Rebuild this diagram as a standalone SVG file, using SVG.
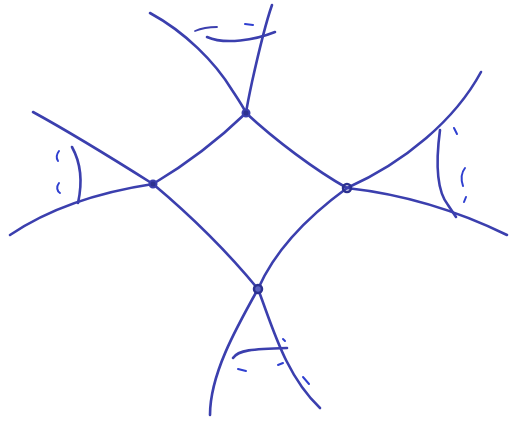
<svg xmlns="http://www.w3.org/2000/svg" width="510" height="422" viewBox="0 0 510 422">
<style>
.ink{fill:none;stroke:#3b3fae;stroke-width:2.6;stroke-linecap:round;stroke-linejoin:round}
.thin{fill:none;stroke:#3b3fae;stroke-width:1.8;stroke-linecap:round}
.mark{fill:none;stroke:#2f3fd0;stroke-width:2;stroke-linecap:round}
.dot{fill:#2c3190;stroke:#3b3fae;stroke-width:2}
</style>
<rect width="510" height="422" fill="#ffffff"/>
<g id="connectors">
<path class="ink" d="M150,13 C185,32 215,62 232,90 C240,102 244,108 246,113 C275,140 315,170 347,188"/>
<path class="ink" d="M272,5 C265,25 258,55 252,82 C249,96 247,106 246,113 C218,140 185,165 153,184"/>
<path class="ink" d="M33,112 C75,135 115,160 153,184 C190,215 230,255 258,289"/>
<path class="ink" d="M10,235 C50,208 100,192 153,184"/>
<path class="ink" d="M481,72 C455,120 405,162 347,188 C310,215 275,250 258,289"/>
<path class="ink" d="M507,235 C460,212 410,195 347,188"/>
<path class="ink" d="M210,415 C210,375 235,330 258,289 C272,325 285,375 320,408"/>
</g>
<g id="arc-top">
<path class="ink" d="M207,37 C225,45 255,40 275,32"/>
<path class="thin" d="M195,31 C202,28 210,27 217,27"/>
<path class="mark" d="M245,24 L253,25"/>
</g>
<g id="arc-left">
<path class="ink" d="M72,147 C82,165 82,185 78,203"/>
<path class="mark" d="M59,151 C56,155 56,158 58,161"/>
<path class="mark" d="M59,183 C56,187 57,191 60,193"/>
</g>
<g id="arc-right">
<path class="ink" d="M440,130 C436,160 436,190 448,205 L456,217"/>
<path class="mark" d="M454,128 L457,134"/>
<path class="mark" d="M465,168 C461,173 461,180 463,186"/>
<path class="mark" d="M466,197 L464,202"/>
</g>
<g id="arc-bottom">
<path class="ink" d="M233,358 C238,350 252,349 287,348"/>
<path class="mark" d="M238,369 L246,371"/>
<path class="mark" d="M278,365 L283,363"/>
<path class="mark" d="M303,377 L309,384"/>
<path class="mark" d="M283,339 L285,341"/>
</g>
<g id="node-top"><circle class="dot" cx="246" cy="113" r="3.5"/></g>
<g id="node-left"><circle class="dot" cx="153" cy="184" r="3.5"/></g>
<g id="node-right"><circle cx="347" cy="188" r="4" fill="none" stroke="#2c3190" stroke-width="2.5"/></g>
<g id="node-bottom"><circle cx="258" cy="289" r="4" fill="#5a62c0" stroke="#2c3190" stroke-width="2.5"/></g>
</svg>
